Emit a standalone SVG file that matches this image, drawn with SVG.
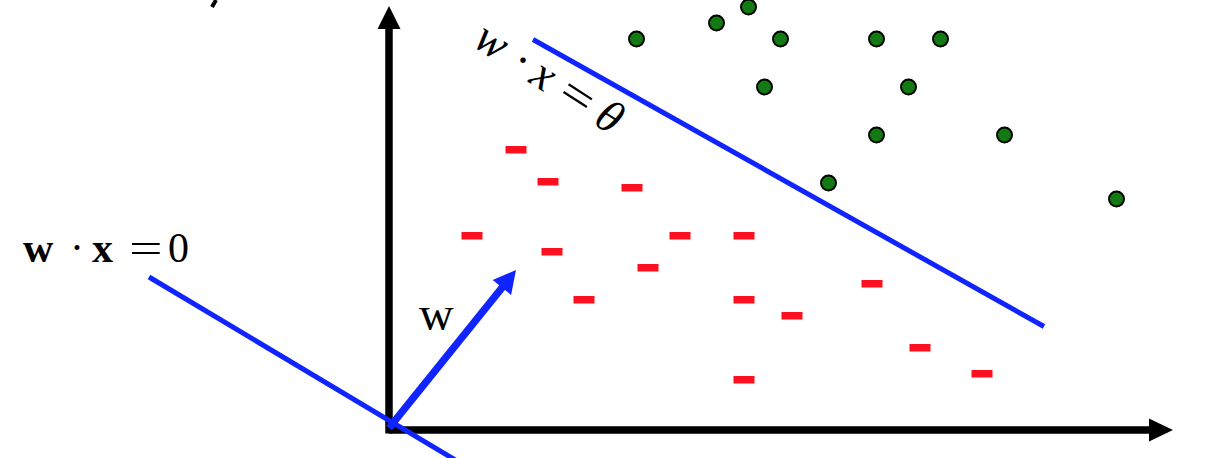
<svg xmlns="http://www.w3.org/2000/svg" width="1208" height="458" viewBox="0 0 1208 458">
<style>
.pos{fill:#127a12;stroke:#000;stroke-width:2}
.neg{fill:#ff1020}
.blue{stroke:#1024ff;stroke-width:5;fill:none}
.axis{stroke:#000;stroke-width:7.5;fill:none}
.lbl{font-family:"Liberation Serif","Times New Roman",serif;fill:#000}
</style>
<rect width="1208" height="458" fill="#fff"/>
<line x1="216" y1="0" x2="212" y2="7" stroke="#000" stroke-width="4"/>
<g id="connectors">
<g id="x-axis"><line class="axis" x1="389" y1="430" x2="1150" y2="430"/><polygon points="1149,418.5 1173,430 1149,441.5" fill="#000"/></g>
<g id="y-axis"><line class="axis" x1="389" y1="433.5" x2="389" y2="28"/><polygon points="377.5,29 389,6 400.5,29" fill="#000"/></g>
<line id="boundary-theta" class="blue" x1="533" y1="39.5" x2="1044" y2="326.5"/>
<line id="boundary-zero" class="blue" x1="149" y1="277" x2="462" y2="464"/>
<g id="w-vector"><line stroke="#1024ff" stroke-width="7.5" x1="389" y1="428" x2="503" y2="286.5"/><polygon points="516,270 492.7,280.1 511.1,294.9" fill="#1024ff"/></g>
</g>
<g id="positives">
<circle class="pos" cx="636.5" cy="39" r="7.5"/>
<circle class="pos" cx="716.5" cy="23" r="7.5"/>
<circle class="pos" cx="748.5" cy="7" r="7.5"/>
<circle class="pos" cx="780.5" cy="39" r="7.5"/>
<circle class="pos" cx="876.5" cy="39" r="7.5"/>
<circle class="pos" cx="940.5" cy="39" r="7.5"/>
<circle class="pos" cx="764.5" cy="87" r="7.5"/>
<circle class="pos" cx="908.5" cy="87" r="7.5"/>
<circle class="pos" cx="876.5" cy="135" r="7.5"/>
<circle class="pos" cx="1004.5" cy="135" r="7.5"/>
<circle class="pos" cx="828.5" cy="183" r="7.5"/>
<circle class="pos" cx="1116.5" cy="199" r="7.5"/>
</g>
<g id="negatives">
<rect class="neg" x="505.5" y="146" width="21" height="7.5"/>
<rect class="neg" x="537.5" y="178" width="21" height="7.5"/>
<rect class="neg" x="621.5" y="184" width="21" height="7.5"/>
<rect class="neg" x="461.5" y="232" width="21" height="7.5"/>
<rect class="neg" x="669.5" y="232" width="21" height="7.5"/>
<rect class="neg" x="733.5" y="232" width="21" height="7.5"/>
<rect class="neg" x="541.5" y="248" width="21" height="7.5"/>
<rect class="neg" x="637.5" y="264" width="21" height="7.5"/>
<rect class="neg" x="573.5" y="296" width="21" height="7.5"/>
<rect class="neg" x="733.5" y="296" width="21" height="7.5"/>
<rect class="neg" x="781.5" y="312" width="21" height="7.5"/>
<rect class="neg" x="861.5" y="280" width="21" height="7.5"/>
<rect class="neg" x="909.5" y="344" width="21" height="7.5"/>
<rect class="neg" x="971.5" y="370" width="21" height="7.5"/>
<rect class="neg" x="733.5" y="376" width="21" height="7.5"/>
</g>
<g id="label-zero">
<text class="lbl" y="262" font-size="42"><tspan x="23" font-weight="bold">w</tspan><tspan x="70">·</tspan><tspan x="92" font-weight="bold">x</tspan><tspan x="168">0</tspan></text>
<text class="lbl" transform="translate(129,262) scale(1.42,1)" font-size="42">=</text>
</g>
<g id="label-w">
<text class="lbl" x="419" y="330" font-size="48">w</text>
</g>
<g id="label-theta">
<g transform="translate(473,46) rotate(33)">
<text class="lbl" y="0" font-size="46"><tspan x="-2" font-style="italic">w</tspan><tspan x="42">·</tspan><tspan x="65" font-style="italic">x</tspan><tspan x="142" font-style="italic">θ</tspan></text>
<text class="lbl" transform="translate(98,0) scale(1.3,1)" font-size="46">=</text>
</g>
</g>
</svg>
